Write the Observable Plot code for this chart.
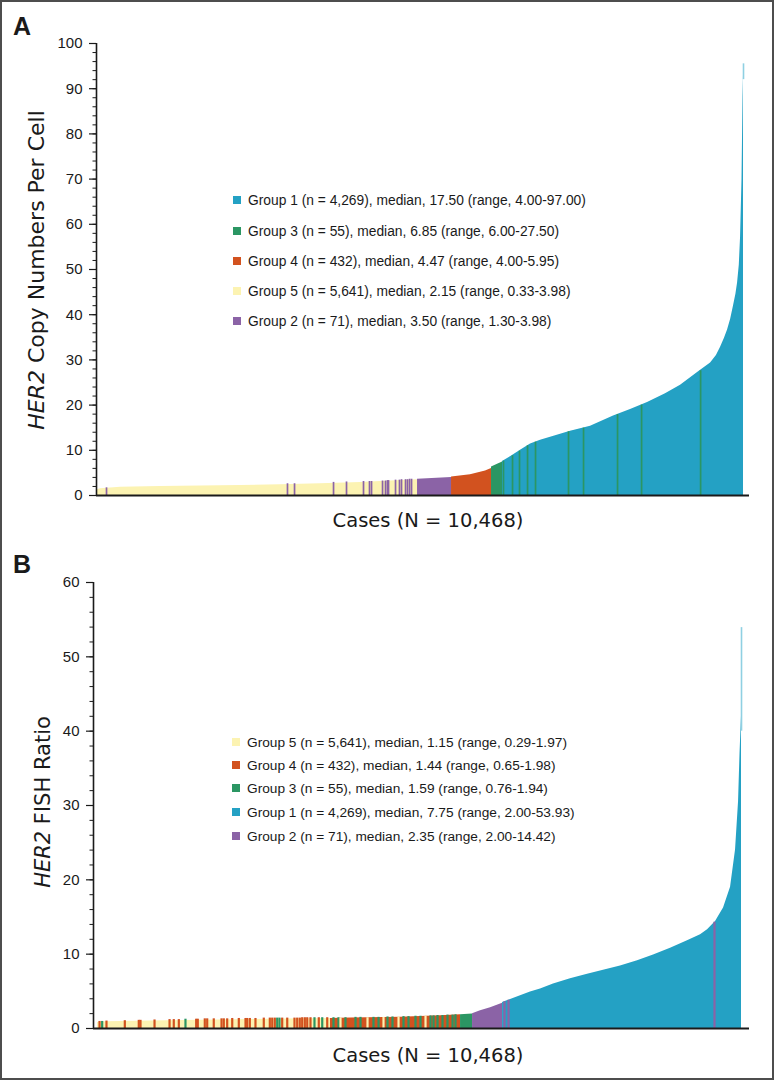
<!DOCTYPE html>
<html>
<head>
<meta charset="utf-8">
<script src="https://cdn.jsdelivr.net/npm/d3@7"></script>
<script src="https://cdn.jsdelivr.net/npm/@observablehq/plot@0.6"></script>
<style>
  html, body { margin: 0; padding: 0; background: #fff; }
  #fig { position: relative; width: 774px; height: 1080px; overflow: hidden;
         font-family: "Liberation Sans", Arial, Helvetica, sans-serif; color: #1a1a1a; }
  #border { position: absolute; left: 0; top: 0; width: 774px; height: 1080px; box-sizing: border-box;
            border: 2px solid #4d4d4d; pointer-events: none; }
  .panel { position: absolute; left: 0; }
  .plabel { position: absolute; font-weight: bold; font-size: 25px; line-height: 25px; }
  .leg { position: absolute; white-space: nowrap; display: flex; align-items: center; height: 16px; }
  .sw { width: 8px; height: 8px; margin-right: 7px; display: inline-block; }
</style>
</head>
<body>
<div id="fig"></div>
<script>
// ---------------- data ----------------
const N = 10468;
const groupIds = [1, 2, 3, 4, 5];
const groupColors = ["#24a1c4", "#8b63a6", "#2b9663", "#d2521f", "#fcf3b2"];
const tipColor = "#8fd0e2";

// Panel A: sorted average HER2 copy number per cell (profile)
const aCase  = [0, 65, 388, 1036, 1683, 2330, 2977, 3624, 4272, 4919, 5194,
                5194, 5744,
                5744, 6051, 6294, 6391,
                6391, 6569,
                6569, 6698, 6860, 7022, 7184, 7427, 7669, 7993, 8365, 8640, 8915, 9206, 9449, 9741, 9935, 10030, 10097, 10160, 10210, 10260, 10307, 10345, 10372, 10400, 10420, 10444, 10460, 10468];
const aValue = [1.2, 1.5, 1.8, 2.0, 2.1, 2.2, 2.4, 2.6, 2.9, 3.3, 3.5,
                3.6, 4.0,
                4.1, 4.6, 5.4, 6.0,
                6.3, 7.4,
                7.5, 8.6, 10.0, 11.4, 12.2, 13.2, 14.2, 15.3, 17.6, 19.0, 20.6, 22.5, 24.4, 27.4, 29.3, 31.0, 32.8, 34.8, 36.6, 39.0, 42, 44.5, 47, 51, 57, 70, 88, 93];
const aGroup = [5, 5, 5, 5, 5, 5, 5, 5, 5, 5, 5,
                2, 2,
                4, 4, 4, 4,
                3, 3,
                1, 1, 1, 1, 1, 1, 1, 1, 1, 1, 1, 1, 1, 1, 1, 1, 1, 1, 1, 1, 1, 1, 1, 1, 1, 1, 1, 1];
// Panel A: isolated cases of another group inside a run
const aStripeCase  = [162, 3090, 3204, 3835, 4045, 4320, 4417, 4450, 4628, 4676, 4708, 4725, 4838, 4902, 4935, 5000, 5032, 5065, 5097,
                      6585, 6731, 6844, 6974, 7103, 7637, 7880, 8430, 8819, 9774];
const aStripeValue = [1.7, 2.6, 2.6, 2.9, 3.0, 3.1, 3.1, 3.1, 3.2, 3.2, 3.3, 3.3, 3.4, 3.4, 3.5, 3.5, 3.5, 3.6, 3.6,
                      7.6, 8.8, 9.8, 11.0, 11.8, 14.1, 14.9, 17.9, 20.0, 27.6];
const aStripeGroup = [2, 2, 2, 2, 2, 2, 2, 2, 2, 2, 2, 2, 2, 2, 2, 2, 2, 2, 2,
                      3, 3, 3, 3, 3, 3, 3, 3, 3, 3];
const aTipCase = [10468], aTipLow = [92], aTipHigh = [95.5];

// Panel B: sorted HER2 FISH ratio
const bCase  = [0, 130, 862, 1674, 2487, 3300, 3787,
                3787, 4113, 4925, 5575, 5901,
                5901, 6096,
                6096, 6226, 6389, 6584,
                6584, 6714, 6876, 7038, 7201, 7412, 7688, 7965, 8257, 8501, 8778, 9038, 9314, 9590, 9802, 9916, 10046, 10176, 10290, 10371, 10420, 10444, 10468];
const bValue = [0.8, 0.9, 1.0, 1.1, 1.2, 1.3, 1.35,
                1.35, 1.4, 1.5, 1.7, 1.85,
                1.85, 1.95,
                2.0, 2.4, 2.8, 3.4,
                3.5, 3.9, 4.4, 4.9, 5.3, 6.0, 6.7, 7.3, 7.9, 8.4, 9.1, 9.9, 10.8, 11.8, 12.6, 13.3, 14.4, 16.2, 19, 24, 30.5, 37, 42];
const bGroup = [5, 5, 5, 5, 5, 5, 5,
                4, 4, 4, 4, 4,
                3, 3,
                2, 2, 2, 2,
                1, 1, 1, 1, 1, 1, 1, 1, 1, 1, 1, 1, 1, 1, 1, 1, 1, 1, 1, 1, 1, 1, 1];
const bStripeCase  = [33, 76, 146, 444, 671, 699, 927, 1171, 1240, 1322, 1430, 1604, 1630, 1744, 1783, 1890, 2016, 2053, 2108, 2190,
                      2297, 2406, 2433, 2476, 2568, 2703, 2801, 2840, 2882, 2921, 2958, 3002, 3084, 3202, 3246, 3288, 3327, 3370, 3409, 3462,
                      3527, 3597, 3653, 3734,
                      3836, 3917, 4031, 4194, 4275, 4486, 4568, 4714, 4795, 4974, 5055, 5169, 5250, 5413, 5462, 5527, 5608, 5689, 5771, 5819,
                      3950, 4389, 4649, 4893, 5332,
                      6616, 6681, 10029];
const bStripeValue = [0.95, 0.95, 1.0, 1.05, 1.1, 1.1, 1.15, 1.2, 1.2, 1.2, 1.25, 1.25, 1.25, 1.3, 1.3, 1.3, 1.3, 1.3, 1.3, 1.35,
                      1.35, 1.35, 1.35, 1.35, 1.35, 1.4, 1.4, 1.4, 1.4, 1.4, 1.4, 1.4, 1.4, 1.4, 1.4, 1.4, 1.45, 1.45, 1.45, 1.45,
                      1.45, 1.45, 1.45, 1.45,
                      1.45, 1.45, 1.45, 1.5, 1.5, 1.5, 1.5, 1.55, 1.55, 1.6, 1.6, 1.65, 1.65, 1.7, 1.7, 1.75, 1.75, 1.8, 1.8, 1.85,
                      1.4, 1.45, 1.5, 1.55, 1.65,
                      3.6, 3.8, 14.3];
const bStripeGroup = [4, 3, 4, 4, 4, 4, 4, 4, 4, 4, 3, 4, 4, 4, 4, 4, 4, 4, 4, 4,
                      4, 4, 4, 4, 4, 4, 4, 4, 4, 3, 3, 4, 4, 4, 4, 4, 4, 4, 4, 4,
                      3, 4, 3, 4,
                      3, 3, 3, 3, 3, 3, 3, 3, 3, 3, 3, 3, 3, 3, 3, 3, 3, 3, 3, 3,
                      5, 5, 5, 5, 5,
                      2, 2, 2];
const bTipCase = [10468], bTipLow = [40], bTipHigh = [53.93];

// Axis ticks
const aMajorTicks = [0, 10, 20, 30, 40, 50, 60, 70, 80, 90, 100];
const bMajorTicks = [0, 10, 20, 30, 40, 50, 60];

// Legends (in reference order)
const aLegendGroup = [1, 3, 4, 5, 2];
const aLegendText = [
  "Group 1 (n = 4,269), median, 17.50 (range, 4.00-97.00)",
  "Group 3 (n = 55), median, 6.85 (range, 6.00-27.50)",
  "Group 4 (n = 432), median, 4.47 (range, 4.00-5.95)",
  "Group 5 (n = 5,641), median, 2.15 (range, 0.33-3.98)",
  "Group 2 (n = 71), median, 3.50 (range, 1.30-3.98)"
];
const bLegendGroup = [5, 4, 3, 1, 2];
const bLegendText = [
  "Group 5 (n = 5,641), median, 1.15 (range, 0.29-1.97)",
  "Group 4 (n = 432), median, 1.44 (range, 0.65-1.98)",
  "Group 3 (n = 55), median, 1.59 (range, 0.76-1.94)",
  "Group 1 (n = 4,269), median, 7.75 (range, 2.00-53.93)",
  "Group 2 (n = 71), median, 2.35 (range, 2.00-14.42)"
];
const xTitle = "Cases (N = 10,468)";

// ---------------- build ----------------
const fig = document.getElementById("fig");
const FONT = '"Liberation Sans", Arial, Helvetica, sans-serif';
const TITLE_FONT = '"DejaVu Sans", "Liberation Sans", Arial, sans-serif';

function rows(cs, vs, gs) { return cs.map((c, i) => ({case: c, value: vs[i], group: gs[i]})); }
function tips(cs, lo, hi) { return cs.map((c, i) => ({case: c, low: lo[i], high: hi[i]})); }

function panel(opts) {
  const svg = Plot.plot({
    width: 774, height: 540,
    marginLeft: opts.ml, marginRight: 25, marginTop: opts.mt, marginBottom: opts.mb,
    x: {domain: opts.xDomain, axis: null},
    y: {domain: [0, opts.yMax], axis: null},
    color: {type: "ordinal", domain: groupIds, range: groupColors},
    style: {fontFamily: FONT, fontSize: "15px", color: "#1a1a1a", background: "transparent", overflow: "visible"},
    marks: [
      Plot.area(opts.profile, {x1: "case", y1: 0, y2: "value", fill: "group", z: "group", curve: "linear"}),
      Plot.ruleX(opts.stripes, {x: "case", y1: 0, y2: "value", stroke: "group", strokeWidth: opts.sw}),
      Plot.ruleX(opts.tip, {x: "case", y1: "low", y2: "high", stroke: tipColor, strokeWidth: 1.6}),
      Plot.axisY(d3.range(0, opts.yMax + 1, 2), {anchor: "left", tickSize: 3.5, tickFormat: () => "", label: null, strokeWidth: 1}),
      Plot.axisY(opts.major, {anchor: "left", tickSize: 7, tickPadding: 7, fontSize: 15, label: null, strokeWidth: 1.2}),
      Plot.ruleX([opts.xDomain[0]], {strokeWidth: 1.6}),
      Plot.ruleY([0], {strokeWidth: 2.2})
    ]
  });
  const s = d3.select(svg);
  // y-axis title with italic gene name
  const t = s.append("text")
    .attr("transform", `translate(${opts.ytX},${opts.ytY}) rotate(-90)`)
    .attr("text-anchor", "middle")
    .attr("font-size", opts.ytSize).attr("fill", "#1a1a1a").attr("font-family", TITLE_FONT);
  t.append("tspan").attr("font-style", "italic").text("HER2");
  t.append("tspan").text(opts.yTitle);
  // x-axis title
  s.append("text")
    .attr("x", 428).attr("y", opts.xtY)
    .attr("text-anchor", "middle").attr("font-size", 19.5).attr("fill", "#1a1a1a").attr("font-family", TITLE_FONT)
    .text(xTitle);
  const wrap = document.createElement("div");
  wrap.className = "panel";
  wrap.style.top = opts.top + "px";
  wrap.appendChild(svg);
  fig.appendChild(wrap);
}

function legend(groups, texts, x, ys, fs) {
  groups.forEach((g, i) => {
    const d = document.createElement("div");
    d.className = "leg";
    d.style.left = x + "px";
    d.style.top = (ys[i] - 8) + "px";
    d.style.fontSize = fs + "px";
    const sw = document.createElement("span");
    sw.className = "sw";
    sw.style.background = groupColors[groupIds.indexOf(g)];
    d.appendChild(sw);
    d.appendChild(document.createTextNode(texts[i]));
    fig.appendChild(d);
  });
}

panel({
  top: 0, ml: 96, mt: 43, mb: 45, yMax: 100, xDomain: [0, 10565],
  profile: rows(aCase, aValue, aGroup),
  stripes: rows(aStripeCase, aStripeValue, aStripeGroup),
  tip: tips(aTipCase, aTipLow, aTipHigh),
  sw: 1.7, major: aMajorTicks,
  yTitle: " Copy Numbers Per Cell", ytX: 44, ytY: 270, ytSize: 22, xtY: 527
});
panel({
  top: 540, ml: 93, mt: 42, mb: 52, yMax: 60, xDomain: [-65, 10598],
  profile: rows(bCase, bValue, bGroup),
  stripes: rows(bStripeCase, bStripeValue, bStripeGroup),
  tip: tips(bTipCase, bTipLow, bTipHigh),
  sw: 2.2, major: bMajorTicks,
  yTitle: " FISH Ratio", ytX: 50, ytY: 262, ytSize: 21, xtY: 522
});

legend(aLegendGroup, aLegendText, 233, [200, 231, 261, 291, 321], 13.8);
legend(bLegendGroup, bLegendText, 232, [742, 765, 788, 812, 836], 13.7);

["A", "B"].forEach((L, i) => {
  const d = document.createElement("div");
  d.className = "plabel";
  d.style.left = "13px";
  d.style.top = (i === 0 ? 14 : 552) + "px";
  d.textContent = L;
  fig.appendChild(d);
});

const b = document.createElement("div");
b.id = "border";
fig.appendChild(b);
</script>
</body>
</html>
